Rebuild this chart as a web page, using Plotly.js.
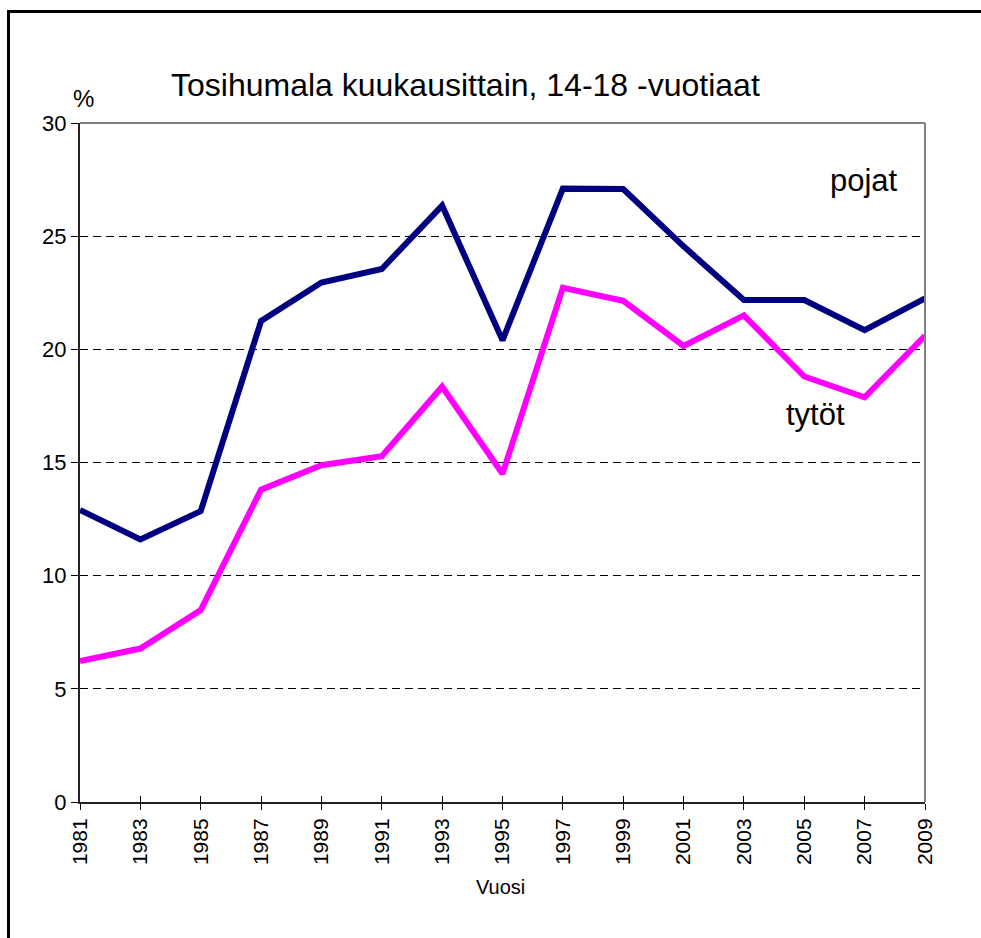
<!DOCTYPE html>
<html>
<head>
<meta charset="utf-8">
<script src="https://cdn.plot.ly/plotly-3.0.1.min.js"></script>
<style>
  html, body { margin: 0; padding: 0; background: #fff; }
  #wrap { position: relative; width: 981px; height: 938px; overflow: hidden; }
  #chart { position: absolute; left: 0; top: 0; width: 981px; height: 938px; }
  #frame { position: absolute; left: 7px; top: 10px; width: 1000px; height: 1000px;
           border-left: 3px solid #000; border-top: 3px solid #000; pointer-events: none; }
</style>
</head>
<body>
<div id="wrap">
  <div id="chart"></div>
  <div id="frame"></div>
</div>
<script>
const years = [1981, 1983, 1985, 1987, 1989, 1991, 1993, 1995, 1997, 1999, 2001, 2003, 2005, 2007, 2009];
const pojat = [12.9, 11.6, 12.85, 21.25, 22.95, 23.55, 26.35, 20.4, 27.1, 27.08, 24.55, 22.18, 22.18, 20.85, 22.25];
const tytot = [6.23, 6.78, 8.48, 13.8, 14.88, 15.28, 18.35, 14.5, 22.72, 22.14, 20.15, 21.5, 18.8, 17.88, 20.6];
const yTicks = [0, 5, 10, 15, 20, 25, 30];

const font = "Liberation Sans, Arial, sans-serif";

const traces = [
  { x: years, y: pojat, type: 'scatter', mode: 'lines', name: 'pojat',
    line: { color: '#000080', width: 6 }, hoverinfo: 'skip' },
  { x: years, y: tytot, type: 'scatter', mode: 'lines', name: 'tytöt',
    line: { color: '#FF00FF', width: 6 }, hoverinfo: 'skip' },
  { x: years, y: tytot, type: 'scatter', mode: 'lines', xaxis: 'x2', showlegend: false,
    line: { color: 'rgba(0,0,0,0)', width: 0 }, hoverinfo: 'skip' }
];

const layout = {
  width: 981, height: 938,
  margin: { l: 80, r: 56, t: 123, b: 136 },
  paper_bgcolor: '#fff', plot_bgcolor: '#fff',
  showlegend: false,
  font: { family: font, color: '#000' },
  xaxis: {
    range: [1981, 2009], tickvals: years, ticktext: years.map(String),
    tickangle: -90, tickfont: { size: 21, family: font, color: '#000' },
    ticks: 'outside', ticklen: 6, tickwidth: 1, tickcolor: '#000',
    showline: true, linecolor: '#222', linewidth: 2,
    showgrid: false, zeroline: false, fixedrange: true
  },
  xaxis2: {
    overlaying: 'x', matches: 'x', anchor: 'y', side: 'bottom',
    range: [1981, 2009], tickvals: years, showticklabels: false,
    ticks: 'inside', ticklen: 6, tickwidth: 1, tickcolor: '#000',
    showline: false, showgrid: false, zeroline: false
  },
  yaxis: {
    range: [0, 30], tickvals: yTicks, ticktext: yTicks.map(String),
    tickfont: { size: 22, family: font, color: '#000' },
    ticks: 'outside', ticklen: 7, tickwidth: 1, tickcolor: '#000',
    showline: true, linecolor: '#222', linewidth: 2,
    showgrid: true, gridcolor: '#000', gridwidth: 1, griddash: '8px,5px',
    zeroline: false, fixedrange: true
  },
  shapes: [
    { type: 'line', xref: 'paper', yref: 'paper', x0: 0, x1: 1, y0: 1, y1: 1,
      line: { color: '#808080', width: 2 } },
    { type: 'line', xref: 'paper', yref: 'paper', x0: 1, x1: 1, y0: 0, y1: 1,
      line: { color: '#808080', width: 2 } }
  ],
  annotations: [
    { text: 'Tosihumala kuukausittain, 14-18 -vuotiaat', xref: 'paper', yref: 'paper',
      x: 0.4568, y: 1.056, xanchor: 'center', yanchor: 'middle', showarrow: false,
      font: { size: 32, family: font, color: '#000' } },
    { text: '%', xref: 'paper', yref: 'paper', x: -0.0107, y: 1.0368,
      xanchor: 'left', yanchor: 'middle', showarrow: false,
      font: { size: 24, family: font, color: '#000' } },
    { text: 'pojat', xref: 'paper', yref: 'paper', x: 0.885, y: 0.9146,
      xanchor: 'left', yanchor: 'middle', showarrow: false,
      font: { size: 31, family: font, color: '#000' } },
    { text: 'tytöt', xref: 'paper', yref: 'paper', x: 0.833, y: 0.570,
      xanchor: 'left', yanchor: 'middle', showarrow: false,
      font: { size: 31, family: font, color: '#000' } },
    { text: 'Vuosi', xref: 'paper', yref: 'paper', x: 0.498, y: -0.125,
      xanchor: 'center', yanchor: 'middle', showarrow: false,
      font: { size: 20, family: font, color: '#000' } }
  ]
};

Plotly.newPlot('chart', traces, layout, { staticPlot: true, displayModeBar: false });
</script>
</body>
</html>
